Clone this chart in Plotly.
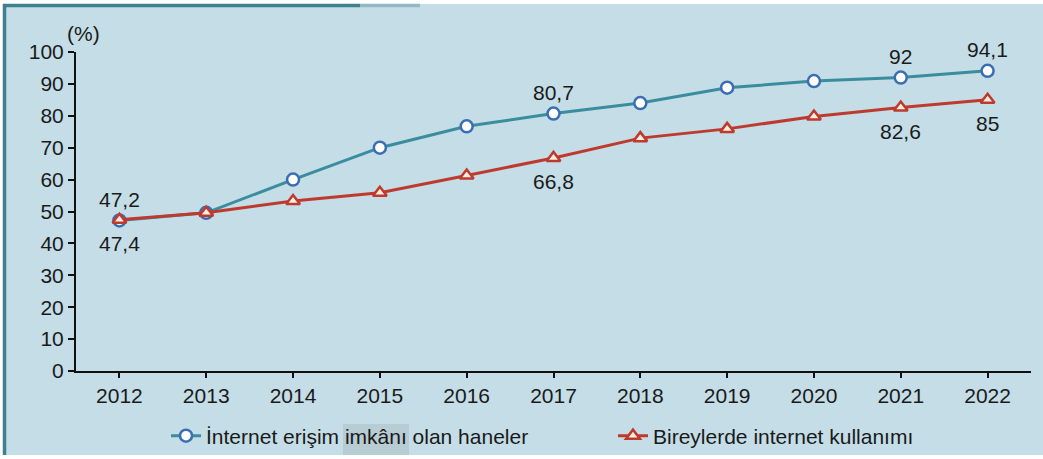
import plotly.graph_objects as go

years = ["2012", "2013", "2014", "2015", "2016", "2017", "2018", "2019", "2020", "2021", "2022"]
households = [47.2, 49.6, 60.0, 70.0, 76.7, 80.7, 84.0, 88.8, 90.9, 92.0, 94.1]
individuals = [47.4, 49.6, 53.3, 55.9, 61.3, 66.8, 73.0, 75.9, 79.8, 82.6, 85.0]
y_ticks = [0, 10, 20, 30, 40, 50, 60, 70, 80, 90, 100]

hh_labels = {0: "47,2", 5: "80,7", 9: "92", 10: "94,1"}
ind_labels = {0: "47,4", 5: "66,8", 9: "82,6", 10: "85"}

xs = list(range(len(years)))
FONT = "Arial, Liberation Sans, sans-serif"
BG = "#c4dde6"
TXT = "#1a1a1a"
FS = 21

W, H = 1043, 459
ML, MR, MT, MB = 76, 12, 52, 88
PW, PH = W - ML - MR, H - MT - MB


def px(x):
    return (x - ML) / PW


def py(y):
    return (H - MB - y) / PH


fig = go.Figure()
fig.add_trace(go.Scatter(
    x=xs, y=households, mode="lines+markers",
    name="İnternet erişim imkânı olan haneler",
    line=dict(color="#3a8d9e", width=3),
    marker=dict(symbol="circle", size=12, color="white",
                line=dict(color="#3a6db3", width=2.5)),
    legend="legend",
))
fig.add_trace(go.Scatter(
    x=xs, y=individuals, mode="lines+markers",
    name="Bireylerde internet kullanımı",
    line=dict(color="#bf3a2e", width=3),
    marker=dict(symbol="triangle-up", size=12, color="#fbeede",
                line=dict(color="#bf3a2e", width=2.5)),
    legend="legend2",
))

for i, t in hh_labels.items():
    fig.add_annotation(x=xs[i], y=households[i], text=t, showarrow=False,
                       yshift=21, font=dict(size=FS, color=TXT, family=FONT))
for i, t in ind_labels.items():
    fig.add_annotation(x=xs[i], y=individuals[i], text=t, showarrow=False,
                       yshift=-24, font=dict(size=FS, color=TXT, family=FONT))

fig.add_annotation(xref="paper", yref="paper", x=0.0, y=1.0, xanchor="left",
                   yanchor="bottom", text="(%)", showarrow=False, xshift=-11, yshift=5,
                   font=dict(size=FS, color=TXT, family=FONT))

shapes = [
    dict(type="rect", xref="paper", yref="paper", x0=px(3), x1=px(W + 5),
         y0=py(455), y1=py(4), fillcolor=BG, line=dict(width=0), layer="below"),
    dict(type="rect", xref="paper", yref="paper", x0=px(343), x1=px(409),
         y0=py(455), y1=py(424), fillcolor="#b8ccd3", line=dict(width=0), layer="below"),
    dict(type="line", xref="paper", yref="paper", x0=px(4.5), x1=px(4.5),
         y0=py(455), y1=py(4), line=dict(color="#3f7f8f", width=3.5)),
    dict(type="line", xref="paper", yref="paper", x0=px(3), x1=px(360),
         y0=py(5.5), y1=py(5.5), line=dict(color="#3f7f8f", width=3.5)),
    dict(type="line", xref="paper", yref="paper", x0=px(360), x1=px(420),
         y0=py(5.5), y1=py(5.5), line=dict(color="#93b8c2", width=3.5)),
]

leg_common = dict(orientation="h", xref="container", yref="container",
                  xanchor="left", yanchor="middle", bgcolor="rgba(0,0,0,0)",
                  font=dict(size=FS, family=FONT, color=TXT), itemwidth=30)

fig.update_layout(
    width=W, height=H,
    margin=dict(l=ML, r=MR, t=MT, b=MB, autoexpand=False),
    paper_bgcolor="white", plot_bgcolor=BG,
    font=dict(family=FONT, size=FS, color=TXT),
    showlegend=True,
    legend=dict(x=166 / W, y=(H - 436) / H, **leg_common),
    legend2=dict(x=613 / W, y=(H - 436) / H, **leg_common),
    shapes=shapes,
    xaxis=dict(tickmode="array", tickvals=xs, ticktext=years, range=[-0.5, 10.5],
               showgrid=False, zeroline=False, showline=True, linecolor="#111",
               linewidth=2, ticks="outside", ticklen=5, tickwidth=2, tickcolor="#111",
               tickfont=dict(size=FS, family=FONT), automargin=False),
    yaxis=dict(range=[0, 100], tickvals=y_ticks, showgrid=False, zeroline=False,
               showline=True, linecolor="#111", linewidth=2, ticks="outside",
               ticklen=6, tickwidth=2, tickcolor="#111",
               tickfont=dict(size=FS, family=FONT), automargin=False),
)

fig.write_html("out.html", config={"displayModeBar": False},
               post_script="document.body.style.margin='0';")
